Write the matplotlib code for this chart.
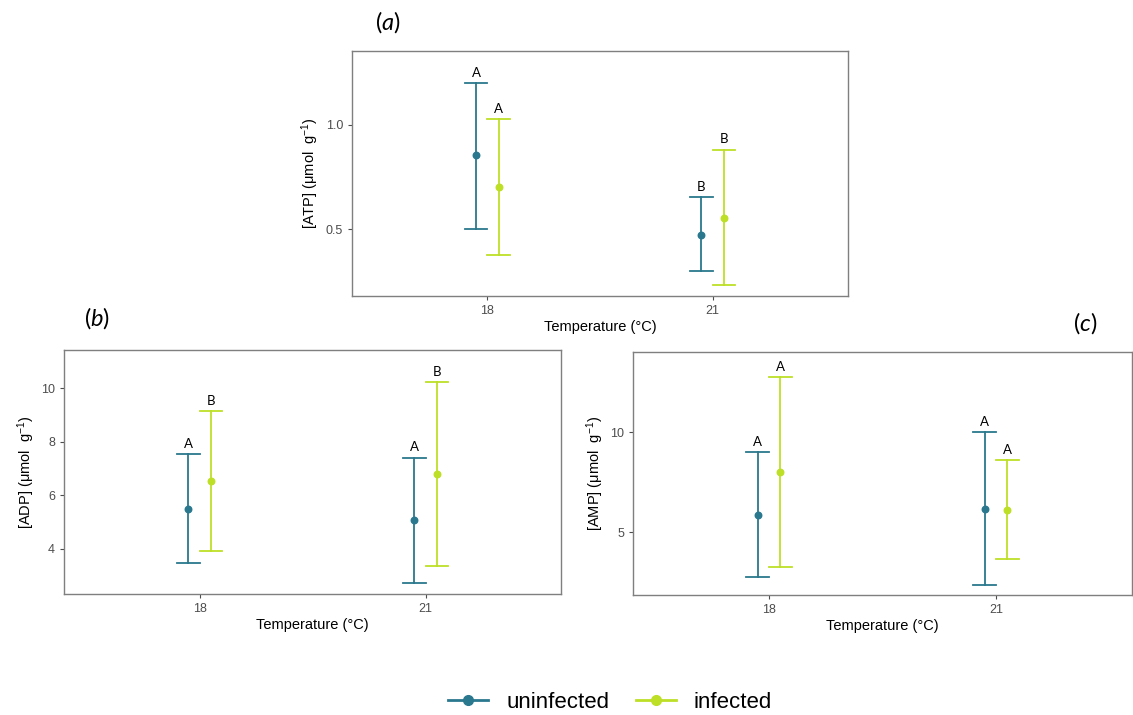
import numpy as np
import matplotlib
matplotlib.use("Agg")
import matplotlib.pyplot as plt
from matplotlib.lines import Line2D

plt.rcParams["font.family"] = ["Liberation Sans", "DejaVu Sans"]
plt.rcParams["mathtext.fontset"] = "custom"
plt.rcParams["mathtext.rm"] = "Liberation Sans"
plt.rcParams["mathtext.it"] = "Lato:italic"

temps = ["18", "21"]
groups = ["uninfected", "infected"]
colors = {"uninfected": "#2A788E", "infected": "#BDDF26"}

# panel a: ATP
atp_mean = {"uninfected": [0.854, 0.475], "infected": [0.703, 0.552]}
atp_low = {"uninfected": [0.500, 0.302], "infected": [0.376, 0.234]}
atp_high = {"uninfected": [1.198, 0.656], "infected": [1.029, 0.881]}
atp_letters = {"uninfected": ["A", "B"], "infected": ["A", "B"]}

# panel b: ADP
adp_mean = {"uninfected": [5.49, 5.07], "infected": [6.52, 6.79]}
adp_low = {"uninfected": [3.46, 2.73], "infected": [3.91, 3.36]}
adp_high = {"uninfected": [7.54, 7.41], "infected": [9.15, 10.22]}
adp_letters = {"uninfected": ["A", "A"], "infected": ["B", "B"]}

# panel c: AMP
amp_mean = {"uninfected": [5.84, 6.17], "infected": [7.99, 6.09]}
amp_low = {"uninfected": [2.74, 2.36], "infected": [3.24, 3.63]}
amp_high = {"uninfected": [9.01, 10.00], "infected": [12.74, 8.61]}
amp_letters = {"uninfected": ["A", "A"], "infected": ["A", "A"]}

DODGE = {"uninfected": -0.05, "infected": 0.05}
CAP = 0.05


def panel(ax, mean, low, high, letters, ylabel, ylim, yticks, yticklabels):
    x = np.arange(1, len(temps) + 1)
    for g in groups:
        xs = x + DODGE[g]
        c = colors[g]
        for i, xi in enumerate(xs):
            ax.plot([xi, xi], [low[g][i], high[g][i]], color=c, lw=1.3)
            ax.plot([xi - CAP, xi + CAP], [low[g][i]] * 2, color=c, lw=1.3)
            ax.plot([xi - CAP, xi + CAP], [high[g][i]] * 2, color=c, lw=1.3)
            ax.annotate(letters[g][i], (xi, high[g][i]), xytext=(0, 3),
                        textcoords="offset points", ha="center", va="bottom",
                        fontsize=9.5, family=["Lato", "DejaVu Sans"])
        ax.scatter(xs, mean[g], s=22, color=c, zorder=3)
    ax.set_xlim(0.4, 2.6)
    ax.set_ylim(*ylim)
    ax.set_xticks(x)
    ax.set_xticklabels(temps)
    ax.set_yticks(yticks)
    ax.set_yticklabels(yticklabels)
    ax.tick_params(colors="#4d4d4d", labelsize=9, length=3, width=0.8)
    for s in ax.spines.values():
        s.set_color("#7f7f7f")
        s.set_linewidth(1.0)
    ax.set_xlabel("Temperature (°C)", fontsize=10.5, labelpad=2)
    ax.set_ylabel(ylabel, fontsize=10.5, labelpad=3)


fig = plt.figure(figsize=(11.33, 7.15), dpi=100)
ax_a = fig.add_axes([0.3107, 0.586, 0.4378, 0.3427])
ax_b = fig.add_axes([0.0565, 0.1692, 0.4387, 0.3413])
ax_c = fig.add_axes([0.5587, 0.1678, 0.4404, 0.3399])

panel(ax_a, atp_mean, atp_low, atp_high, atp_letters,
      r"[ATP] (μmol  g$^{-1}$)", (0.181, 1.353), [0.5, 1.0], ["0.5", "1.0"])
panel(ax_b, adp_mean, adp_low, adp_high, adp_letters,
      r"[ADP] (μmol  g$^{-1}$)", (2.32, 11.42), [4, 6, 8, 10], ["4", "6", "8", "10"])
panel(ax_c, amp_mean, amp_low, amp_high, amp_letters,
      r"[AMP] (μmol  g$^{-1}$)", (1.85, 14.0), [5, 10], ["5", "10"])

lab_font = ["Lato", "DejaVu Sans"]
fig.text(388 / 1133, 1 - 22 / 715, "($a$)", fontsize=17, ha="center", va="center", family=lab_font)
fig.text(97 / 1133, 1 - 318 / 715, "($b$)", fontsize=17, ha="center", va="center", family=lab_font)
fig.text(1085 / 1133, 1 - 323 / 715, "($c$)", fontsize=17, ha="center", va="center", family=lab_font)

handles = [Line2D([0], [0], color=colors[g], lw=2, marker="o", markersize=7) for g in groups]
fig.legend(handles, groups, loc="center", bbox_to_anchor=(610 / 1133, 1 - 702 / 715),
           ncol=2, frameon=False, fontsize=16, handlelength=1.8, columnspacing=1.2,
           handletextpad=0.8)

fig.savefig("out.png", dpi=100)
